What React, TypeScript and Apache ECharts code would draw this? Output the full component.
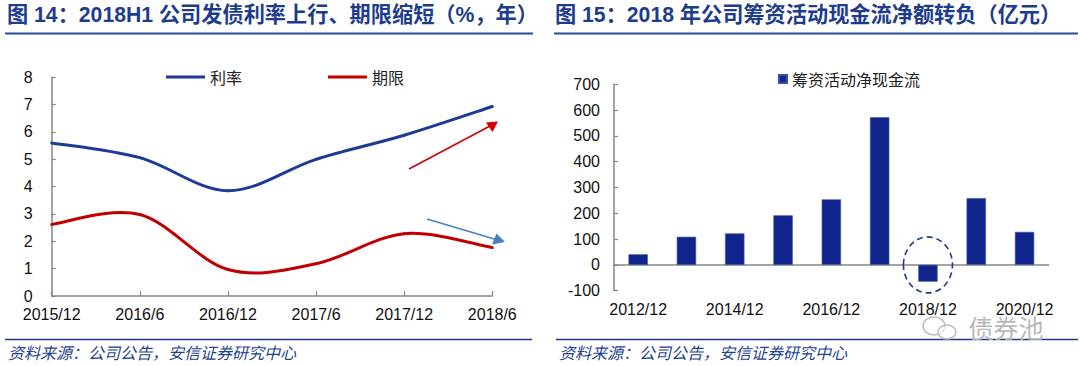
import React, { useEffect, useRef } from "react";
import * as echarts from "echarts";

const titleLeft = "图 14：2018H1 公司发债利率上行、期限缩短（%，年）";
const titleRight = "图 15：2018 年公司筹资活动现金流净额转负（亿元）";
const sourceText = "资料来源：公司公告，安信证券研究中心";
const watermarkText = "债券池";

const leftCategories = ["2015/12", "2016/6", "2016/12", "2017/6", "2017/12", "2018/6"];
const rateName = "利率";
const termName = "期限";
const rateValues = [5.6, 5.06, 3.85, 5.0, 5.88, 6.93];
const termValues = [2.62, 2.98, 0.97, 1.18, 2.28, 1.77];

const rightCategories = [
  "2012/12", "2013/12", "2014/12", "2015/12", "2016/12",
  "2017/12", "2018/12", "2019/12", "2020/12",
];
const financingName = "筹资活动净现金流";
const financingValues = [41, 109, 122, 192, 254, 572, -65, 259, 128];
const highlightCategory = "2018/12";

const NUM_FONT = "'Liberation Sans', Arial, 'Noto Sans CJK SC', sans-serif";
const CJK_FONT = "'Noto Sans CJK SC', 'Liberation Sans', sans-serif";
const TITLE_COLOR = "#1D3C8C";
const AXIS_COLOR = "#868686";
const BLUE = "#1C3A96";
const RED = "#C00000";
const BAR = "#10258C";

// Excel-like smoothed line (Catmull-Rom segments) drawn through the chart's own scales
function smoothLineSeries(name: string, values: number[], color: string) {
  return {
    name,
    type: "custom",
    coordinateSystem: "cartesian2d",
    xAxisIndex: 0,
    yAxisIndex: 0,
    data: values.map((v, i) => [i, v]),
    encode: { x: 0, y: 1 },
    color,
    itemStyle: { color },
    renderItem: (params: any, api: any) => {
      const i = params.dataIndex;
      const n = values.length;
      if (i >= n - 1) return null;
      const p = (k: number) => {
        const kk = Math.max(0, Math.min(n - 1, k));
        return api.coord([kk, values[kk]]);
      };
      const p0 = p(i - 1), p1 = p(i), p2 = p(i + 1), p3 = p(i + 2);
      const t = 1 / 6;
      return {
        type: "bezierCurve",
        shape: {
          x1: p1[0], y1: p1[1], x2: p2[0], y2: p2[1],
          cpx1: p1[0] + (p2[0] - p0[0]) * t,
          cpy1: p1[1] + (p2[1] - p0[1]) * t,
          cpx2: p2[0] - (p3[0] - p1[0]) * t,
          cpy2: p2[1] - (p3[1] - p1[1]) * t,
        },
        style: { stroke: color, lineWidth: 3, fill: "none", lineCap: "round" },
      };
    },
  };
}

export default function App() {
  const ref = useRef<HTMLDivElement>(null);

  useEffect(() => {
    if (!ref.current) return;
    const chart = echarts.init(ref.current, undefined, { renderer: "svg" });

    const staticGraphics: any[] = [
      // titles
      { type: "text", left: 7, top: 4, style: { text: titleLeft, fill: TITLE_COLOR, fontSize: 21.2, fontWeight: "bold", fontFamily: NUM_FONT } },
      { type: "text", left: 555, top: 4, style: { text: titleRight, fill: TITLE_COLOR, fontSize: 21.2, fontWeight: "bold", fontFamily: NUM_FONT } },
      { type: "line", shape: { x1: 5, y1: 33.5, x2: 533, y2: 33.5 }, style: { stroke: "#2A4A9A", lineWidth: 2 } },
      { type: "line", shape: { x1: 554, y1: 33.5, x2: 1078, y2: 33.5 }, style: { stroke: "#2A4A9A", lineWidth: 2 } },
      // footers
      { type: "line", shape: { x1: 5, y1: 339.5, x2: 532, y2: 339.5 }, style: { stroke: "#1F3A8A", lineWidth: 1.5 } },
      { type: "line", shape: { x1: 556, y1: 339.5, x2: 1078, y2: 339.5 }, style: { stroke: "#1F3A8A", lineWidth: 1.5 } },
      { type: "text", left: 8, top: 344, style: { text: sourceText, fill: "#24438F", fontSize: 16, fontStyle: "italic", fontFamily: CJK_FONT } },
      { type: "text", left: 559, top: 344, style: { text: sourceText, fill: "#24438F", fontSize: 16, fontStyle: "italic", fontFamily: CJK_FONT } },
      // trend arrows (annotations)
      { type: "line", shape: { x1: 409, y1: 169, x2: 490, y2: 126 }, style: { stroke: "#D00000", lineWidth: 1.5 } },
      { type: "polygon", shape: { points: [[498, 121.5], [486, 122.5], [492.5, 132]] }, style: { fill: "#D00000" } },
      { type: "line", shape: { x1: 427, y1: 219, x2: 496, y2: 239.5 }, style: { stroke: "#4A7EC0", lineWidth: 1.5 } },
      { type: "polygon", shape: { points: [[505, 242], [492, 244.5], [496.5, 233.5]] }, style: { fill: "#4A7EC0" } },
    ];

    const option: any = {
      animation: false,
      backgroundColor: "#ffffff",
      legend: [
        {
          data: [
            { name: rateName, itemStyle: { color: BLUE } },
            { name: termName, itemStyle: { color: RED } },
          ],
          left: 161,
          top: 64,
          icon: "rect",
          itemWidth: 39,
          itemHeight: 3,
          itemGap: 86,
          textStyle: { fontSize: 16, color: "#222", fontFamily: CJK_FONT },
        },
        {
          data: [financingName],
          left: 773,
          top: 66,
          icon: "rect",
          itemWidth: 8,
          itemHeight: 8,
          textStyle: { fontSize: 16, color: "#222", fontFamily: CJK_FONT, padding: [4, 0, 0, 0] },
        },
      ],
      grid: [
        { left: 51.7, top: 77.3, width: 440.6, height: 218.7, containLabel: false },
        { left: 614, top: 84.3, width: 434.7, height: 206.4, containLabel: false },
      ],
      xAxis: [
        {
          gridIndex: 0,
          type: "category",
          data: leftCategories,
          boundaryGap: false,
          axisLine: { lineStyle: { color: AXIS_COLOR, width: 1.5 } },
          axisTick: { inside: true, length: 5, lineStyle: { color: AXIS_COLOR, width: 1.2 } },
          axisLabel: { fontSize: 16, color: "#111", fontFamily: NUM_FONT, margin: 10 },
          splitLine: { show: false },
        },
        {
          gridIndex: 1,
          type: "category",
          data: rightCategories,
          position: "bottom",
          axisLine: { show: false, onZero: false },
          axisTick: { show: false },
          axisLabel: { interval: 1, fontSize: 16, color: "#111", fontFamily: NUM_FONT, margin: 11 },
          splitLine: { show: false },
        },
        {
          gridIndex: 1,
          type: "category",
          data: rightCategories,
          position: "bottom",
          axisLine: { onZero: true, lineStyle: { color: AXIS_COLOR, width: 1.5 } },
          axisTick: { inside: true, length: 4, interval: 0, lineStyle: { color: AXIS_COLOR, width: 1.2 } },
          axisLabel: { show: false },
          splitLine: { show: false },
        },
      ],
      yAxis: [
        {
          gridIndex: 0,
          type: "value",
          min: 0,
          max: 8,
          interval: 1,
          axisLine: { show: true, lineStyle: { color: AXIS_COLOR, width: 1.5 } },
          axisTick: { show: true, inside: true, length: 4, lineStyle: { color: AXIS_COLOR, width: 1.2 } },
          axisLabel: { fontSize: 16, color: "#111", fontFamily: NUM_FONT, margin: 19 },
          splitLine: { show: false },
        },
        {
          gridIndex: 1,
          type: "value",
          min: -100,
          max: 700,
          interval: 100,
          axisLine: { show: true, lineStyle: { color: AXIS_COLOR, width: 1.5 } },
          axisTick: { show: true, inside: true, length: 4, lineStyle: { color: AXIS_COLOR, width: 1.2 } },
          axisLabel: { fontSize: 16, color: "#111", fontFamily: NUM_FONT, margin: 14 },
          splitLine: { show: false },
        },
      ],
      series: [
        smoothLineSeries(rateName, rateValues, BLUE),
        smoothLineSeries(termName, termValues, RED),
        {
          name: financingName,
          type: "bar",
          xAxisIndex: 2,
          yAxisIndex: 1,
          data: financingValues,
          barWidth: "40%",
          color: BAR,
          itemStyle: { color: BAR, borderColor: "#3D50A8", borderWidth: 0.6 },
        },
      ],
      graphic: staticGraphics,
    };

    chart.setOption(option);

    const center = chart.convertToPixel({ xAxisIndex: 2, yAxisIndex: 1 } as any, [highlightCategory, 0]) as number[];
    const extra: any[] = [
      {
        type: "ellipse",
        shape: { cx: center[0], cy: center[1], rx: 24.5, ry: 28 },
        style: { fill: "none", stroke: "#1F3A8A", lineWidth: 1.6, lineDash: [6, 4] },
        z: 10,
      },
      // watermark
      {
        type: "ellipse",
        shape: { cx: 934, cy: 326, rx: 11, ry: 9 },
        style: { fill: "none", stroke: "#BDBDBD", lineWidth: 1.5 },
        z: 20,
      },
      {
        type: "ellipse",
        shape: { cx: 947, cy: 332, rx: 9, ry: 7 },
        style: { fill: "rgba(255,255,255,0.6)", stroke: "#BDBDBD", lineWidth: 1.5 },
        z: 20,
      },
      {
        type: "text",
        left: 968,
        top: 314,
        z: 20,
        style: { text: watermarkText, fill: "rgba(170,170,170,0.85)", fontSize: 25, fontFamily: CJK_FONT, stroke: "rgba(255,255,255,0.7)", lineWidth: 1 },
      },
    ];
    chart.setOption({ graphic: staticGraphics.concat(extra) });

    return () => chart.dispose();
  }, []);

  return (
    <div
      ref={ref}
      style={{ position: "fixed", left: 0, top: 0, width: 1080, height: 366, background: "#fff" }}
    />
  );
}
